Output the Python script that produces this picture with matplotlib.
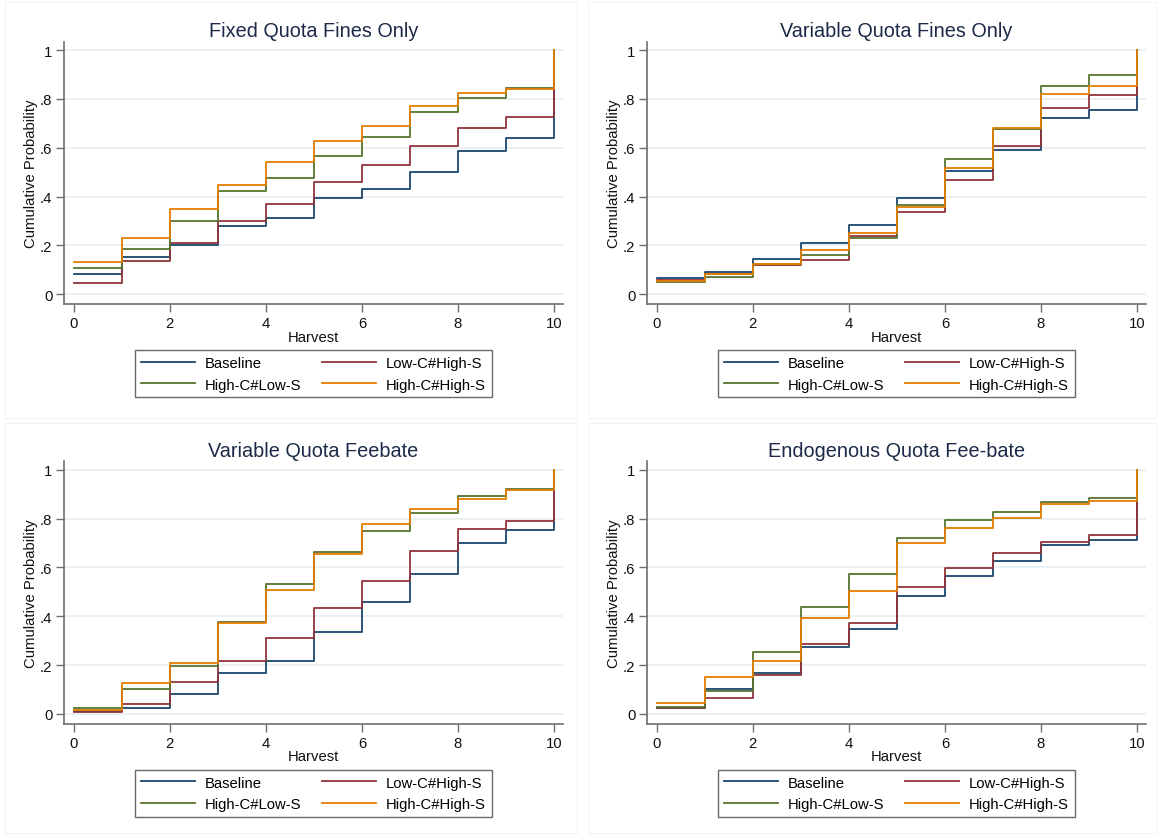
import matplotlib
matplotlib.use("Agg")
import matplotlib.pyplot as plt
from matplotlib.patches import Rectangle

plt.rcParams['font.family'] = ['Liberation Sans', 'DejaVu Sans']

# harvest levels and cumulative probabilities
harvest = [0, 1, 2, 3, 4, 5, 6, 7, 8, 9, 10]
series_names = ["Baseline", "Low-C#High-S", "High-C#Low-S", "High-C#High-S"]
titles = ["Fixed Quota Fines Only", "Variable Quota Fines Only",
          "Variable Quota Feebate", "Endogenous Quota Fee-bate"]

fixed_base = [0.082, 0.151, 0.203, 0.280, 0.314, 0.392, 0.431, 0.502, 0.587, 0.640, 1.0]
fixed_lchs = [0.046, 0.136, 0.211, 0.299, 0.370, 0.461, 0.529, 0.608, 0.679, 0.724, 1.0]
fixed_hcls = [0.106, 0.187, 0.299, 0.424, 0.475, 0.565, 0.644, 0.746, 0.805, 0.843, 1.0]
fixed_hchs = [0.131, 0.229, 0.349, 0.447, 0.542, 0.629, 0.688, 0.772, 0.825, 0.842, 1.0]

varfine_base = [0.065, 0.093, 0.146, 0.210, 0.284, 0.396, 0.506, 0.592, 0.720, 0.756, 1.0]
varfine_lchs = [0.060, 0.083, 0.120, 0.141, 0.240, 0.337, 0.469, 0.608, 0.763, 0.816, 1.0]
varfine_hcls = [0.050, 0.071, 0.123, 0.162, 0.232, 0.366, 0.553, 0.677, 0.851, 0.896, 1.0]
varfine_hchs = [0.055, 0.082, 0.124, 0.183, 0.251, 0.357, 0.518, 0.681, 0.820, 0.853, 1.0]

feebate_base = [0.011, 0.026, 0.080, 0.166, 0.218, 0.335, 0.459, 0.574, 0.698, 0.753, 1.0]
feebate_lchs = [0.008, 0.042, 0.132, 0.215, 0.309, 0.433, 0.544, 0.669, 0.756, 0.790, 1.0]
feebate_hcls = [0.025, 0.101, 0.198, 0.375, 0.530, 0.662, 0.749, 0.824, 0.892, 0.921, 1.0]
feebate_hchs = [0.016, 0.125, 0.208, 0.373, 0.507, 0.655, 0.779, 0.841, 0.879, 0.916, 1.0]

endo_base = [0.026, 0.102, 0.166, 0.275, 0.349, 0.481, 0.564, 0.628, 0.693, 0.711, 1.0]
endo_lchs = [0.025, 0.067, 0.159, 0.287, 0.373, 0.520, 0.598, 0.659, 0.706, 0.733, 1.0]
endo_hcls = [0.027, 0.095, 0.255, 0.439, 0.575, 0.721, 0.796, 0.828, 0.868, 0.884, 1.0]
endo_hchs = [0.046, 0.153, 0.217, 0.392, 0.504, 0.700, 0.762, 0.804, 0.858, 0.872, 1.0]

panels = [
    [fixed_base, fixed_lchs, fixed_hcls, fixed_hchs],
    [varfine_base, varfine_lchs, varfine_hcls, varfine_hchs],
    [feebate_base, feebate_lchs, feebate_hcls, feebate_hchs],
    [endo_base, endo_lchs, endo_hcls, endo_hchs],
]

colors = ["#1a476f", "#90353b", "#55752f", "#e37e00"]
yticks = [0, 0.2, 0.4, 0.6, 0.8, 1.0]
ytick_labels = ["0", ".2", ".4", ".6", ".8", "1"]

W, H = 1159, 837
fig = plt.figure(figsize=(W / 100, H / 100), dpi=100)

# pixel geometry of the first panel, others are offset
ax_l, ax_r, ax_t, ax_b = 64.3, 562.7, 42.7, 305.0
dx, dy = 583.0, 419.7
axcol = "#6e6e6e"

# faint panel frames like the stata combined graph
for (fx, fy, fw, fh) in [(5, 3, 572, 416), (588, 3, 568, 416),
                         (5, 424, 572, 410), (588, 424, 568, 410)]:
    fig.patches.append(Rectangle((fx / W, 1 - (fy + fh) / H), fw / W, fh / H,
                                 transform=fig.transFigure, fill=False,
                                 edgecolor="#f3f3f3", lw=0.8))

for i, (title, data) in enumerate(zip(titles, panels)):
    ox = dx * (i % 2)
    oy = dy * (i // 2)
    left = (ax_l + ox) / W
    bottom = 1 - (ax_b + oy) / H
    ax = fig.add_axes([left, bottom, (ax_r - ax_l) / W, (ax_b - ax_t) / H])

    lines = []
    for vals, c, name in zip(data, colors, series_names):
        ln, = ax.step(harvest, vals, where="post", color=c, lw=1.3, label=name)
        lines.append(ln)

    ax.set_xlim(-0.194, 10.18)
    ax.set_ylim(-0.040, 1.034)
    ax.set_xticks([0, 2, 4, 6, 8, 10])
    ax.set_yticks(yticks)
    ax.set_yticklabels(ytick_labels)
    ax.grid(axis="y", color="#e8eff1", lw=1.2)
    ax.set_axisbelow(True)
    for s in ["top", "right"]:
        ax.spines[s].set_visible(False)
    for s in ["left", "bottom"]:
        ax.spines[s].set_color(axcol)
        ax.spines[s].set_linewidth(1.2)
    ax.tick_params(direction="out", length=5.5, width=1.0, color=axcol,
                   labelsize=10.7, labelcolor="#111111", pad=3)

    ax.set_title(title, fontsize=14.3, color="#1c2a48", pad=4)
    ax.set_xlabel("Harvest", fontsize=10.7, color="#111111")
    ax.set_ylabel("Cumulative Probability", fontsize=10.7, color="#111111")
    ax.xaxis.set_label_coords(0.5, -0.098)
    ax.yaxis.set_label_coords(-0.052, 0.5)

    # row-wise legend order: matplotlib fills columns first
    order = [0, 2, 1, 3]
    leg = ax.legend([lines[k] for k in order], [series_names[k] for k in order],
                    loc="upper center", bbox_to_anchor=(0.5, -0.176), ncol=2,
                    fontsize=10.7, frameon=True, fancybox=False,
                    edgecolor="#444444", handlelength=3.6, handletextpad=0.7,
                    columnspacing=1.4, borderpad=0.38, labelspacing=0.52,
                    borderaxespad=0)
    leg.get_frame().set_linewidth(1.0)

fig.savefig("out.png", dpi=100, facecolor="white")
